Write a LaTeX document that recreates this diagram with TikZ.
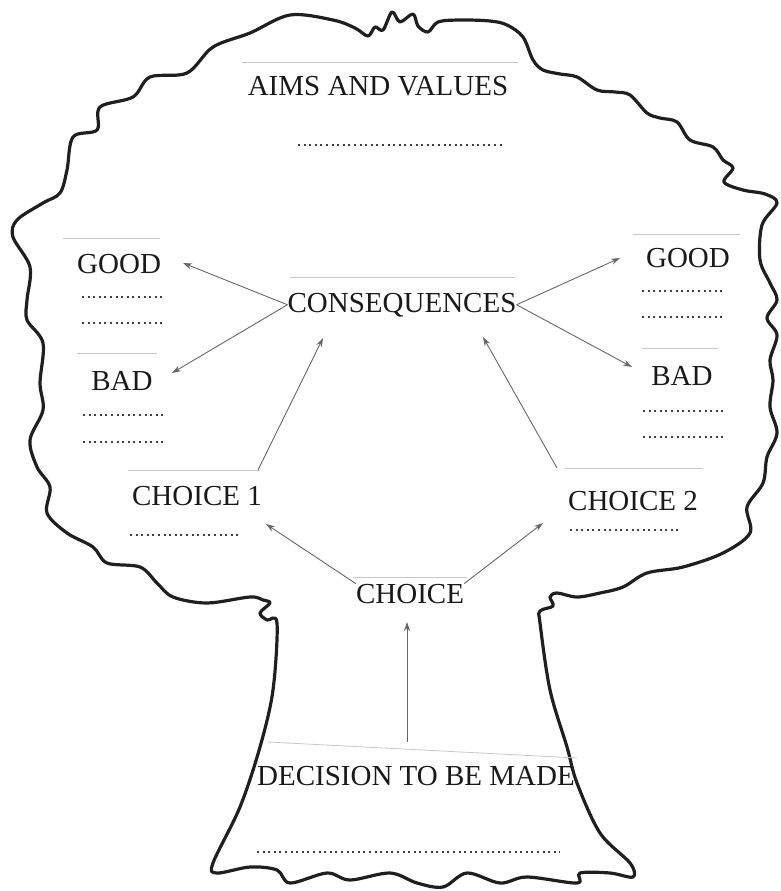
\documentclass[tikz,border=0pt]{standalone}
\usepackage{fontspec}
\setmainfont{Liberation Serif}
\usetikzlibrary{arrows.meta}
\begin{document}
\begin{tikzpicture}[x=1pt,y=1pt,
 lab/.style={font=\fontsize{29}{30}\selectfont, text=black!90, inner sep=0pt, anchor=base},
 cut/.style={draw=black!22, line width=0.8pt},
 dots/.style={draw=black!75, line width=2pt, dash pattern=on 2pt off 3.6pt},
 arr/.style={draw=black!60, line width=0.9pt, -{Stealth[length=9pt,width=6pt]}},
 outline/.style={draw=black!88, line width=3.2pt, line join=round}]
\useasboundingbox (0,0) rectangle (780,-891);

% tree outline
\draw[outline] plot[smooth cycle, tension=0.55] coordinates {
(333,-20) (355,-28) (368,-36) (375,-27) (383,-30) (392,-12) (400,-22) (413,-14) (418,-26) (428,-32) (438,-22) (460,-20)
(490,-21) (507,-25) (523,-37) (533,-60) (543,-70) (560,-74) (577,-77) (597,-90) (615,-92) (630,-95) (647,-113) (660,-118)
(677,-122) (690,-140) (713,-147) (723,-160) (733,-168) (724,-182) (743,-190) (765,-194) (777,-203) (762,-225) (760,-260)
(770,-283) (777,-300) (767,-318) (777,-335) (770,-360) (773,-380) (770,-407) (777,-433) (767,-457) (763,-483) (747,-507)
(750,-533) (723,-553) (683,-567) (647,-573) (623,-587) (600,-593) (577,-597) (557,-593)
(550,-597) (553,-606) (540,-611) (540,-623) (550,-690) (567,-747) (577,-783) (600,-833) (630,-863) (633,-877) (610,-873)
(580,-873) (577,-883) (527,-877) (500,-883) (467,-873) (443,-887) (417,-883) (390,-873) (350,-880) (327,-873) (290,-883)
(277,-870) (250,-867) (217,-873) (213,-863) (240,-807) (260,-747) (273,-690) (277,-623) (267,-620) (260,-613) (270,-603)
(263,-600) (250,-597) (207,-603) (173,-597) (157,-583) (140,-567) (107,-563) (93,-547) (67,-533) (47,-513) (50,-487)
(37,-467) (30,-440) (43,-410) (40,-383) (43,-343) (27,-320) (27,-300) (30,-267) (13,-237) (17,-220) (43,-203) (60,-193)
(67,-170) (73,-137) (97,-130) (100,-107) (133,-97) (150,-77) (187,-73) (213,-47) (250,-33) (290,-15)};

% label cut edges
\draw[cut] (242,-62) -- (518,-62);
\draw[cut] (63,-238) -- (160,-238);
\draw[cut] (77,-353) -- (157,-353);
\draw[cut] (128,-470) -- (260,-470);
\draw[cut] (290,-277) -- (515,-277);
\draw[cut] (633,-234) -- (740,-234);
\draw[cut] (642,-348) -- (718,-348);
\draw[cut] (565,-468) -- (703,-468);
\draw[cut] (353,-577) -- (467,-577);
\draw[cut] (268,-742) -- (577,-758);

% dotted answer lines
\draw[dots] (298,-145) -- (505,-145);
\draw[dots] (82,-297) -- (163,-297);
\draw[dots] (82,-323) -- (163,-323);
\draw[dots] (83,-415) -- (163,-415);
\draw[dots] (83,-442) -- (163,-442);
\draw[dots] (130,-535) -- (240,-535);
\draw[dots] (642,-291) -- (722,-291);
\draw[dots] (642,-317) -- (722,-317);
\draw[dots] (643,-411) -- (723,-411);
\draw[dots] (643,-437) -- (723,-437);
\draw[dots] (570,-530) -- (678,-530);
\draw[dots] (257,-852) -- (560,-852);

% labels
\node[lab] (aims) at (378,-95) {AIMS AND VALUES};
\begin{scope}
\clip (60,-240) rectangle (163,-290);
\node[lab, anchor=base west] (goodL) at (77,-273) {GOOD\kern2pt:};
\end{scope}
\node[lab] (badL) at (122,-390) {BAD};
\node[lab] (c1) at (197,-505) {CHOICE 1};
\node[lab] (cons) at (402,-312) {CONSEQUENCES};
\node[lab] (goodR) at (688,-267) {GOOD};
\node[lab] (badR) at (682,-385) {BAD};
\node[lab] (c2) at (633,-510) {CHOICE 2};
\node[lab] (choice) at (410,-603) {CHOICE};
\node[lab] (dec) at (416,-785) {DECISION TO BE MADE};

% arrow tips and tails
\coordinate (tGL) at (183,-263);
\coordinate (tBL) at (172,-373);
\coordinate (tC1) at (323,-338);
\coordinate (tCh1) at (266,-524);
\coordinate (tGR) at (620,-258);
\coordinate (tBR) at (632,-367);
\coordinate (tC2) at (483,-337);
\coordinate (tCh2) at (543,-523);
\coordinate (sC1) at (258,-470);
\coordinate (sC2) at (557,-468);
\coordinate (sDec) at (407,-742);
\coordinate (tChoice) at (407,-622);

% connectors
\draw[arr] (cons.west) -- (tGL);
\draw[arr] (cons.west) -- (tBL);
\draw[arr] (cons.east) -- (tGR);
\draw[arr] (cons.east) -- (tBR);
\draw[arr] (sC1) -- (tC1);
\draw[arr] (sC2) -- (tC2);
\draw[arr] (choice.north west) -- (tCh1);
\draw[arr] (choice.north east) -- (tCh2);
\draw[arr] (sDec) -- (tChoice);
\end{tikzpicture}
\end{document}
